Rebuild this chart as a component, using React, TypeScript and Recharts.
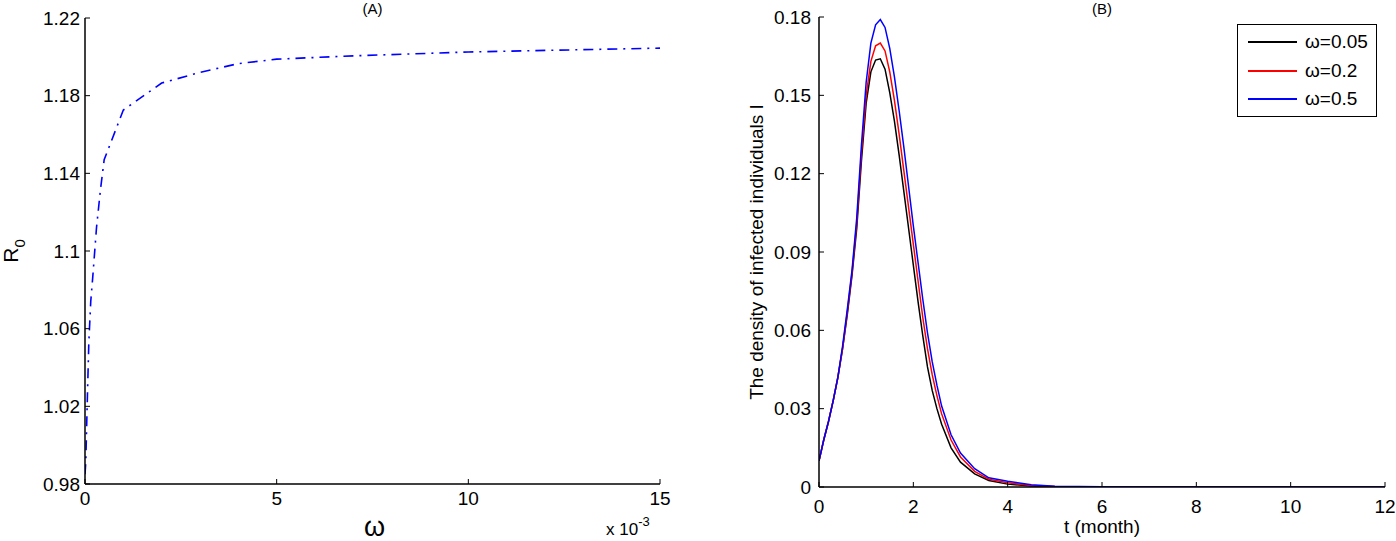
import React from 'react';
import { LineChart, Line, XAxis, YAxis, Legend, Label } from 'recharts';

const FONT = '"Liberation Sans", Arial, Helvetica, sans-serif';

// (A) R0 versus omega (omega in units of 1e-3)
const omega = [0, 0.02, 0.06, 0.1, 0.15, 0.2, 0.3, 0.4, 0.5, 1, 2, 3, 4, 5, 7, 10, 15];
const r0 = [0.985, 0.991, 1.023, 1.053, 1.074, 1.086, 1.112, 1.131, 1.147, 1.1726, 1.1865, 1.192, 1.1965, 1.1988, 1.2005, 1.2025, 1.2045];
const omegaTicks = [0, 5, 10, 15];
const r0Ticks = [0.98, 1.02, 1.06, 1.1, 1.14, 1.18, 1.22];

// (B) infected density over time
const months = [0, 0.1, 0.2, 0.3, 0.4, 0.5, 0.6, 0.7, 0.8, 0.9, 1.0, 1.1, 1.2, 1.3, 1.4, 1.5, 1.6, 1.7, 1.8, 1.9, 2.0, 2.1, 2.2, 2.3, 2.4, 2.5, 2.6, 2.8, 3.0, 3.3, 3.6, 4.0, 4.5, 5, 6, 7, 8, 9, 10, 11, 12];
const w005 = [0.010, 0.018, 0.025, 0.033, 0.042, 0.053, 0.066, 0.081, 0.099, 0.125, 0.147, 0.159, 0.1635, 0.164, 0.160, 0.151, 0.140, 0.127, 0.113, 0.099, 0.085, 0.071, 0.058, 0.046, 0.037, 0.030, 0.024, 0.015, 0.0095, 0.005, 0.0025, 0.0011, 0.0004, 0.0001, 0, 0, 0, 0, 0, 0, 0];
const w02 = [0.010, 0.018, 0.025, 0.033, 0.042, 0.053, 0.067, 0.082, 0.101, 0.128, 0.150, 0.163, 0.169, 0.170, 0.167, 0.159, 0.148, 0.135, 0.121, 0.107, 0.093, 0.079, 0.065, 0.053, 0.043, 0.035, 0.028, 0.018, 0.0115, 0.006, 0.003, 0.0016, 0.0006, 0.0002, 0, 0, 0, 0, 0, 0, 0];
const w05 = [0.010, 0.018, 0.025, 0.033, 0.042, 0.054, 0.068, 0.083, 0.103, 0.131, 0.155, 0.170, 0.177, 0.179, 0.176, 0.168, 0.157, 0.144, 0.130, 0.115, 0.100, 0.086, 0.072, 0.059, 0.048, 0.039, 0.031, 0.020, 0.013, 0.007, 0.0035, 0.0022, 0.0009, 0.0003, 0.0001, 0, 0, 0, 0, 0, 0];
const timeTicks = [0, 2, 4, 6, 8, 10, 12];
const densityTicks = [0, 0.03, 0.06, 0.09, 0.12, 0.15, 0.18];
const seriesNames = ['ω=0.05', 'ω=0.2', 'ω=0.5'];
const seriesColors = ['#000000', '#ff0000', '#0000ff'];

const dataA = omega.map((w, i) => ({ w, r: r0[i] }));
const dataB = months.map((t, i) => ({ t, a: w005[i], b: w02[i], c: w05[i] }));

const tickStyle = { fontSize: 19, fill: '#000', fontFamily: FONT };
const axisLine = { stroke: '#000', strokeWidth: 1.5 };
const tickLine = { stroke: '#000', strokeWidth: 1 };

const R0Label = (props: any) => {
  const { viewBox } = props;
  const cx = 18;
  const cy = viewBox.y + viewBox.height / 2;
  return (
    <text x={cx} y={cy} transform={`rotate(-90, ${cx}, ${cy})`} textAnchor="middle" fontFamily={FONT} fontSize={21} fill="#000">
      R<tspan fontSize={15} dy={7}>0</tspan>
    </text>
  );
};

const DensityLabel = (props: any) => {
  const { viewBox } = props;
  const cx = 63;
  const cy = viewBox.y + viewBox.height / 2;
  return (
    <text x={cx} y={cy} transform={`rotate(-90, ${cx}, ${cy})`} textAnchor="middle" fontFamily={FONT} fontSize={19} fill="#000">
      The density of infected individuals I
    </text>
  );
};

// bottom axis label of (A): omega, the x 10^-3 multiplier and the panel title
const ScaleLabel = (props: any) => {
  const { viewBox } = props;
  const right = viewBox.x + viewBox.width;
  const mid = viewBox.x + viewBox.width / 2;
  return (
    <g fontFamily={FONT} fill="#000">
      <text x={mid + 2} y={viewBox.y + 52} textAnchor="middle" fontSize={27}>ω</text>
      <text x={right - 54} y={viewBox.y + 51} fontSize={17}>
        x 10<tspan fontSize={13} dy={-9}>-3</tspan>
      </text>
      <text x={mid} y={14} textAnchor="middle" fontSize={15}>(A)</text>
    </g>
  );
};

// bottom axis label of (B): t (month) and the panel title
const TimeLabel = (props: any) => {
  const { viewBox } = props;
  const mid = viewBox.x + viewBox.width / 2;
  return (
    <g fontFamily={FONT} fill="#000">
      <text x={mid} y={viewBox.y + 46} textAnchor="middle" fontSize={19}>t (month)</text>
      <text x={mid} y={14} textAnchor="middle" fontSize={15}>(B)</text>
    </g>
  );
};

const LegendBox = () => (
  <div style={{ border: '1px solid #000', background: '#fff', width: 138, height: 88, paddingTop: 3, fontFamily: FONT }}>
    {seriesNames.map((name, i) => (
      <div key={name} style={{ display: 'flex', alignItems: 'center', height: 28.5 }}>
        <div style={{ width: 49, height: 2, background: seriesColors[i], marginLeft: 10 }} />
        <span style={{ marginLeft: 8, fontSize: 19, color: '#000' }}>{name}</span>
      </div>
    ))}
  </div>
);

const ChartA = () => (
  <LineChart width={700} height={541} data={dataA} margin={{ top: 18, right: 40, bottom: 27, left: 25 }}>
    <XAxis xAxisId="b" dataKey="w" type="number" domain={[0, 15]} ticks={omegaTicks} allowDataOverflow
      height={30} tickSize={-5} tickMargin={13} tick={tickStyle} axisLine={axisLine} tickLine={tickLine} interval={0}>
      <Label content={<ScaleLabel />} />
    </XAxis>
    <XAxis xAxisId="t" orientation="top" dataKey="w" type="number" domain={[0, 15]} ticks={omegaTicks} allowDataOverflow
      height={0} tickSize={-5} tick={false} axisLine={axisLine} tickLine={tickLine} />
    <YAxis yAxisId="l" type="number" domain={[0.98, 1.22]} ticks={r0Ticks} allowDataOverflow width={60}
      tickSize={-5} tickMargin={10} tick={tickStyle} axisLine={axisLine} tickLine={tickLine} interval={0}>
      <Label content={<R0Label />} />
    </YAxis>
    <YAxis yAxisId="r" orientation="right" type="number" domain={[0.98, 1.22]} ticks={r0Ticks} allowDataOverflow width={0}
      tickSize={-5} tick={false} axisLine={axisLine} tickLine={tickLine} />
    <Line xAxisId="b" yAxisId="l" type="linear" dataKey="r" stroke="#0000ff" strokeWidth={1.6}
      strokeDasharray="10 6 2 6" dot={false} isAnimationActive={false} />
  </LineChart>
);

const ChartB = () => (
  <LineChart width={696} height={541} data={dataB} margin={{ top: 17, right: 11, bottom: 24, left: 59 }}>
    <XAxis xAxisId="b" dataKey="t" type="number" domain={[0, 12]} ticks={timeTicks} allowDataOverflow
      height={30} tickSize={-5} tickMargin={18} tick={tickStyle} axisLine={axisLine} tickLine={tickLine} interval={0}>
      <Label content={<TimeLabel />} />
    </XAxis>
    <XAxis xAxisId="t" orientation="top" dataKey="t" type="number" domain={[0, 12]} ticks={timeTicks} allowDataOverflow
      height={0} tickSize={-5} tick={false} axisLine={axisLine} tickLine={tickLine} />
    <YAxis yAxisId="l" type="number" domain={[0, 0.18]} ticks={densityTicks} allowDataOverflow width={60}
      tickSize={-5} tickMargin={13} tick={tickStyle} axisLine={axisLine} tickLine={tickLine} interval={0}>
      <Label content={<DensityLabel />} />
    </YAxis>
    <YAxis yAxisId="r" orientation="right" type="number" domain={[0, 0.18]} ticks={densityTicks} allowDataOverflow width={0}
      tickSize={-5} tick={false} axisLine={axisLine} tickLine={tickLine} />
    <Legend content={<LegendBox />} layout="horizontal" verticalAlign="middle" align="center"
      wrapperStyle={{ position: 'absolute', top: 24, left: 537, width: 140, height: 92 }} />
    {['a', 'b', 'c'].map((k, i) => (
      <Line key={k} xAxisId="b" yAxisId="l" type="linear" dataKey={k} name={seriesNames[i]} stroke={seriesColors[i]}
        strokeWidth={1.5} dot={false} isAnimationActive={false} />
    ))}
  </LineChart>
);

export default function App() {
  return (
    <div style={{ position: 'absolute', left: 0, top: 0, width: 1396, height: 541, background: '#fff' }}>
      <div style={{ position: 'absolute', left: 0, top: 0 }}>
        <ChartA />
      </div>
      <div style={{ position: 'absolute', left: 700, top: 0 }}>
        <ChartB />
      </div>
    </div>
  );
}
